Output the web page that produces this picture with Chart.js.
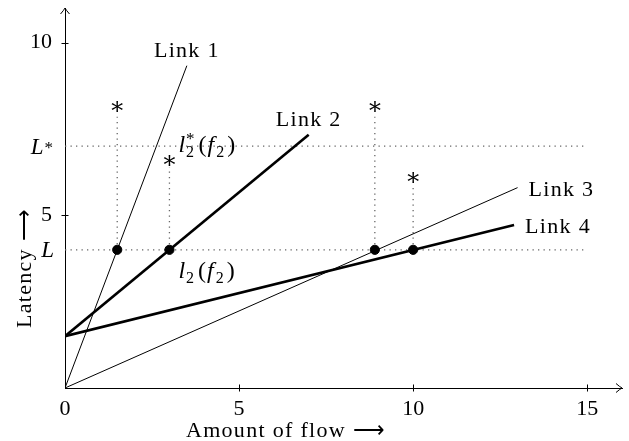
<!DOCTYPE html>
<html><head><meta charset="utf-8">
<script src="https://cdn.jsdelivr.net/npm/chart.js@4"></script>
<style>html,body{margin:0;padding:0;background:#fff}#wrap{width:629px;height:441px}</style>
</head><body><div id="wrap"><canvas id="c" width="629" height="441"></canvas></div>
<script>
// ---- data ----
const linkNames = ['Link 1', 'Link 2', 'Link 3', 'Link 4'];
const linkStartX = [0, 0, 0, 0];
const linkStartY = [0, 1.5, 0, 1.5];
const linkEndX = [3.5, 7, 13, 12.9];
const linkEndY = [9.33, 7.33, 5.8, 4.72];
const flowX = [1.5, 3, 8.9, 10];          // flows at latency L
const latencyL = 4;
const latencyLStar = 7;
const starY = [8.15, 6.6, 8.15, 6.1];     // asterisk heights
const stemTopY = [7.85, 6.4, 7.85, 5.85]; // top of dotted stems
const xTicks = [0, 5, 10, 15];
const yTicks = [4, 5, 7, 10];
const yTickLabels = ['L', '5', 'L*', '10'];
const xMax = 16, yMax = 11, dottedXMax = 15;

// ---- style ----
const SERIF = '"Liberation Serif", "Times New Roman", serif';
const FS = 22;
const MFS = 24;

const datasets = [];
linkNames.forEach((n, i) => datasets.push({
  label: n,
  data: [{x: linkStartX[i], y: linkStartY[i]}, {x: linkEndX[i], y: linkEndY[i]}],
  showLine: true, borderColor: '#000', borderWidth: (i % 2) ? 2.6 : 1,
  pointRadius: 0, order: 1
}));
[latencyL, latencyLStar].forEach(v => datasets.push({
  label: 'level', data: [{x: 0, y: v}, {x: dottedXMax, y: v}],
  showLine: true, borderColor: '#666', borderWidth: 1.3, borderDash: [1.3, 4.2],
  pointRadius: 0, order: 2
}));
flowX.forEach((fx, i) => datasets.push({
  label: 'stem', data: [{x: fx, y: latencyL}, {x: fx, y: stemTopY[i]}],
  showLine: true, borderColor: '#666', borderWidth: 1.3, borderDash: [1.3, 4.2],
  pointRadius: 0, order: 2
}));
datasets.push({
  label: 'points', data: flowX.map(fx => ({x: fx, y: latencyL})),
  showLine: false, pointRadius: 4.6, backgroundColor: '#000', borderColor: '#000', order: 0
});

function fontOf(p) { return (p.i ? 'italic ' : '') + (p.s || MFS) + 'px ' + SERIF; }
function itemWidth(ctx, p) {
  if (p.stack) return Math.max(...p.stack.map(q => itemWidth(ctx, q))) + (p.kern || 0);
  ctx.font = fontOf(p); return ctx.measureText(p.t).width + (p.kern || 0);
}
function drawMath(ctx, parts, x, y, align) {
  const w = parts.reduce((a, p) => a + itemWidth(ctx, p), 0);
  let cx = align === 'right' ? x - w : align === 'center' ? x - w / 2 : x;
  ctx.textBaseline = 'alphabetic'; ctx.textAlign = 'left'; ctx.fillStyle = '#000';
  for (const p of parts) {
    const items = p.stack || [p];
    for (const q of items) { ctx.font = fontOf(q); ctx.fillText(q.t, cx + (q.dx || 0), y + (q.dy || 0)); }
    cx += itemWidth(ctx, p);
  }
}
function arrowHead(ctx, x, y, dir) {
  ctx.save(); ctx.translate(x, y); if (dir === 'up') ctx.rotate(-Math.PI / 2);
  ctx.beginPath();
  ctx.moveTo(-6, -4.5); ctx.quadraticCurveTo(-2, -1, 0, 0); ctx.quadraticCurveTo(-2, 1, -6, 4.5);
  ctx.lineWidth = 1; ctx.strokeStyle = '#000'; ctx.stroke(); ctx.restore();
}

const decor = {
  id: 'decor',
  afterDraw(chart) {
    const ctx = chart.ctx, xs = chart.scales.x, ys = chart.scales.y;
    const X = v => xs.getPixelForValue(v), Y = v => ys.getPixelForValue(v);
    ctx.save();
    // arrows
    arrowHead(ctx, xs.right, ys.bottom, 'right');
    arrowHead(ctx, xs.left, ys.top, 'up');
    // tick marks crossing axes
    ctx.strokeStyle = '#000'; ctx.lineWidth = 1;
    xTicks.filter(v => v > 0).forEach(v => {
      const px = Math.round(X(v)) + 0.5;
      ctx.beginPath(); ctx.moveTo(px, ys.bottom - 3.5); ctx.lineTo(px, ys.bottom + 3.5); ctx.stroke();
    });
    yTicks.forEach((v, k) => {
      if (yTickLabels[k] === 'L' || yTickLabels[k] === 'L*') return;
      const py = Math.round(Y(v)) + 0.5;
      ctx.beginPath(); ctx.moveTo(xs.left - 3.5, py); ctx.lineTo(xs.left + 3.5, py); ctx.stroke();
    });
    // L and L* tick labels
    yTicks.forEach((v, k) => {
      const l = yTickLabels[k];
      if (l === 'L') drawMath(ctx, [{t: 'L', i: 1, s: 23}], xs.left - 11, Y(v) + 7.5, 'right');
      if (l === 'L*') drawMath(ctx, [{t: 'L', i: 1, s: 23, kern: 1}, {t: '*', s: 17, dy: -1, kern: 1}], xs.left - 11, Y(v) + 8, 'right');
    });
    // link labels
    ctx.font = FS + 'px ' + SERIF; ctx.fillStyle = '#000'; ctx.textBaseline = 'alphabetic';
    ctx.letterSpacing = '1.3px';
    linkNames.forEach((n, i) => {
      const end = chart.getDatasetMeta(i).data[1];
      if (i < 2) { ctx.textAlign = 'center'; ctx.fillText(n, end.x, end.y - 9); }
      else { ctx.textAlign = 'left'; ctx.fillText(n, end.x + 11, end.y + 8); }
    });
    ctx.letterSpacing = '0px';
    // asterisks
    ctx.font = '24px "DejaVu Serif", serif'; ctx.textAlign = 'center';
    flowX.forEach((fx, i) => {
      const m = ctx.measureText('\u2217');
      const cy = Y(starY[i]);
      const base = cy + (m.actualBoundingBoxAscent - m.actualBoundingBoxDescent) / 2;
      ctx.fillText('\u2217', X(fx), base);
    });
    // l2*(f2) and l2(f2)
    const lstar = [{t: 'l', i: 1, kern: 1}, {stack: [{t: '*', s: 17, dy: -8}, {t: '2', s: 16, dy: 5}], kern: 4},
                   {t: '(', kern: 1}, {t: 'f', i: 1, kern: 2}, {t: '2', s: 16, dy: 5, kern: 3}, {t: ')'}];
    const lreg = [{t: 'l', i: 1, kern: 1}, {t: '2', s: 16, dy: 5, kern: 4},
                  {t: '(', kern: 1}, {t: 'f', i: 1, kern: 2}, {t: '2', s: 16, dy: 5, kern: 3}, {t: ')'}];
    drawMath(ctx, lstar, X(flowX[1]) + 9, Y(latencyLStar) + 6, 'left');
    drawMath(ctx, lreg, X(flowX[1]) + 9, Y(latencyL) + 28, 'left');
    // axis titles
    ctx.font = FS + 'px ' + SERIF; ctx.textAlign = 'center'; ctx.textBaseline = 'alphabetic';
    ctx.letterSpacing = '1.3px';
    ctx.fillText('Amount of flow \u27F6', 286, 437);
    ctx.save(); ctx.translate(31, 268); ctx.rotate(-Math.PI / 2);
    ctx.fillText('Latency \u27F6', 0, 0); ctx.restore();
    ctx.letterSpacing = '0px';
    ctx.restore();
  }
};

new Chart(document.getElementById('c'), {
  type: 'scatter',
  data: {datasets},
  options: {
    responsive: false, animation: false, events: [],
    layout: {padding: {top: 8, right: 7, left: 0, bottom: 0}},
    plugins: {legend: {display: false}, tooltip: {enabled: false}},
    scales: {
      x: {
        type: 'linear', min: 0, max: xMax,
        afterBuildTicks: s => { s.ticks = xTicks.map(v => ({value: v})); },
        afterFit: s => { s.height = 53; s.paddingLeft = 0; s.paddingRight = 0; },
        grid: {display: true, drawOnChartArea: false, drawTicks: false},
        border: {display: true, color: '#000', width: 1},
        ticks: {color: '#000', font: {family: SERIF, size: FS}, padding: 8, maxRotation: 0, autoSkip: false,
                callback: v => String(v)}
      },
      y: {
        type: 'linear', min: 0, max: yMax,
        afterBuildTicks: s => { s.ticks = yTicks.map(v => ({value: v})); },
        afterFit: s => { s.width = 65; s.paddingTop = 0; s.paddingBottom = 0; },
        grid: {display: true, drawOnChartArea: false, drawTicks: false},
        border: {display: true, color: '#000', width: 1},
        ticks: {color: '#000', font: {family: SERIF, size: FS}, padding: 13, autoSkip: false,
                callback: v => { const l = yTickLabels[yTicks.indexOf(v)]; return (l === 'L' || l === 'L*') ? '' : l; }}
      }
    }
  },
  plugins: [decor]
});
</script></body></html>
